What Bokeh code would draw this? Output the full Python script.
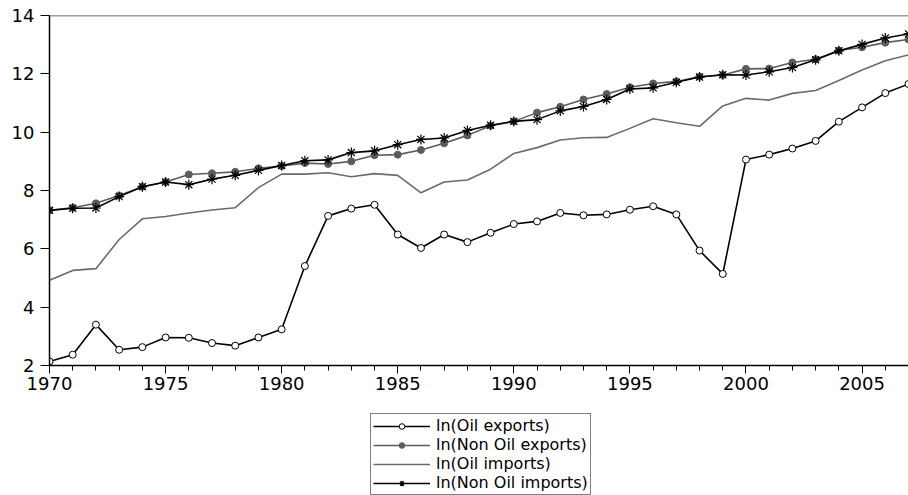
from bokeh.plotting import figure
from bokeh.layouts import column
from bokeh.models import Range1d, FixedTicker, Legend, LegendItem, Span
from bokeh.embed import file_html
from bokeh.resources import INLINE

years = list(range(1970, 2008))
oil_exports = [2.14, 2.37, 3.40, 2.54, 2.63, 2.96, 2.95, 2.77, 2.68, 2.96,
               3.24, 5.41, 7.13, 7.38, 7.51, 6.49, 6.03, 6.49, 6.23, 6.55,
               6.85, 6.94, 7.23, 7.15, 7.18, 7.34, 7.46, 7.18, 5.94, 5.14,
               9.06, 9.23, 9.44, 9.70, 10.36, 10.85, 11.34, 11.65]
non_oil_exports = [7.32, 7.41, 7.56, 7.83, 8.13, 8.29, 8.55, 8.59, 8.64, 8.76,
                   8.84, 8.94, 8.91, 9.00, 9.21, 9.23, 9.39, 9.62, 9.89, 10.22,
                   10.37, 10.67, 10.87, 11.12, 11.31, 11.54, 11.67, 11.74, 11.90, 11.96,
                   12.17, 12.18, 12.39, 12.50, 12.80, 12.91, 13.07, 13.18]
oil_imports = [4.92, 5.26, 5.32, 6.32, 7.03, 7.11, 7.23, 7.33, 7.41, 8.10,
               8.56, 8.56, 8.61, 8.47, 8.58, 8.52, 7.92, 8.29, 8.36, 8.73,
               9.27, 9.47, 9.73, 9.81, 9.82, 10.13, 10.46, 10.32, 10.20, 10.90,
               11.16, 11.10, 11.33, 11.43, 11.77, 12.13, 12.45, 12.65]
non_oil_imports = [7.32, 7.39, 7.40, 7.79, 8.13, 8.29, 8.20, 8.39, 8.52, 8.69,
                   8.86, 9.02, 9.05, 9.30, 9.36, 9.57, 9.75, 9.80, 10.06, 10.24,
                   10.37, 10.43, 10.73, 10.88, 11.12, 11.48, 11.52, 11.71, 11.89, 11.97,
                   11.96, 12.07, 12.22, 12.48, 12.79, 13.01, 13.23, 13.37]
series_labels = ["ln(Oil exports)", "ln(Non Oil exports)", "ln(Oil imports)", "ln(Non Oil imports)"]
x_ticks = [1970, 1975, 1980, 1985, 1990, 1995, 2000, 2005]
y_ticks = [2, 4, 6, 8, 10, 12, 14]

FONT = "DejaVu Sans"
col_oe = "black"
col_noe = "#5c5c5c"
col_oi = "#6b6b6b"
col_noi = "black"

# ---------------- main chart ----------------
p = figure(width=908, height=400, output_backend="svg", toolbar_location=None,
           x_range=Range1d(1970, 2007), y_range=Range1d(2, 14),
           min_border_left=49, min_border_right=0, min_border_top=15, min_border_bottom=35)
p.outline_line_color = None
p.xgrid.grid_line_color = None
p.ygrid.grid_line_color = None
p.background_fill_color = "white"
p.border_fill_color = "white"

xa = p.xaxis[0]
xa.ticker = FixedTicker(ticks=x_ticks, minor_ticks=years)
xa.axis_line_color = "black"
xa.axis_line_width = 1.5
xa.major_tick_in = 0
xa.major_tick_out = 8
xa.minor_tick_in = 0
xa.minor_tick_out = 5
xa.major_tick_line_color = "black"
xa.minor_tick_line_color = "black"
xa.major_label_standoff = 3
xa.major_label_text_font = FONT
xa.major_label_text_font_size = "18px"
xa.major_label_text_color = "black"

ya = p.yaxis[0]
ya.ticker = FixedTicker(ticks=y_ticks, minor_ticks=[])
ya.axis_line_color = "black"
ya.axis_line_width = 1.5
ya.major_tick_in = 0
ya.major_tick_out = 9
ya.minor_tick_line_color = None
ya.major_tick_line_color = "black"
ya.major_label_standoff = 6
ya.major_label_text_font = FONT
ya.major_label_text_font_size = "18px"
ya.major_label_text_color = "black"

p.add_layout(Span(location=14, dimension="width", line_color="#3a3a3a", line_width=1.5))

def draw_series(fig):
    l1 = fig.line(years, oil_exports, line_color=col_oe, line_width=1.6)
    s1 = fig.scatter(years, oil_exports, marker="circle", size=7, fill_color="white",
                     line_color=col_oe, line_width=1)
    l2 = fig.line(years, non_oil_exports, line_color=col_noe, line_width=1.6)
    s2 = fig.scatter(years, non_oil_exports, marker="circle", size=7, fill_color=col_noe,
                     line_color=col_noe, line_width=1)
    l3 = fig.line(years, oil_imports, line_color=col_oi, line_width=1.6)
    l4 = fig.line(years, non_oil_imports, line_color=col_noi, line_width=1.6)
    s4 = fig.scatter(years, non_oil_imports, marker="asterisk", size=10,
                     line_color=col_noi, line_width=1.2)
    return [[l1, s1], [l2, s2], [l3], [l4, s4]]

draw_series(p)

# ---------------- legend strip below ----------------
# same series in a strip whose ranges keep them out of view; only its legend shows
q = figure(width=908, height=95, output_backend="svg", toolbar_location=None,
           x_range=Range1d(0, 1), y_range=Range1d(0, 1),
           x_axis_location=None, y_axis_location=None, min_border=0)
q.outline_line_color = None
q.xgrid.grid_line_color = None
q.ygrid.grid_line_color = None
q.background_fill_color = "white"
q.border_fill_color = "white"
groups = draw_series(q)

legend = Legend(items=[LegendItem(label=lab, renderers=rs) for lab, rs in zip(series_labels, groups)],
                location=(321, 0))
legend.border_line_color = "black"
legend.border_line_width = 1
legend.background_fill_color = "white"
legend.background_fill_alpha = 1
legend.label_text_font = FONT
legend.label_text_font_size = "16px"
legend.label_text_color = "black"
legend.glyph_width = 57
legend.glyph_height = 14
legend.label_height = 10
legend.label_standoff = 6
legend.spacing = 0
legend.padding = 2
legend.margin = 0
q.add_layout(legend)

layout = column(p, q, spacing=0)
open("out.html", "w").write(file_html(layout, INLINE))
